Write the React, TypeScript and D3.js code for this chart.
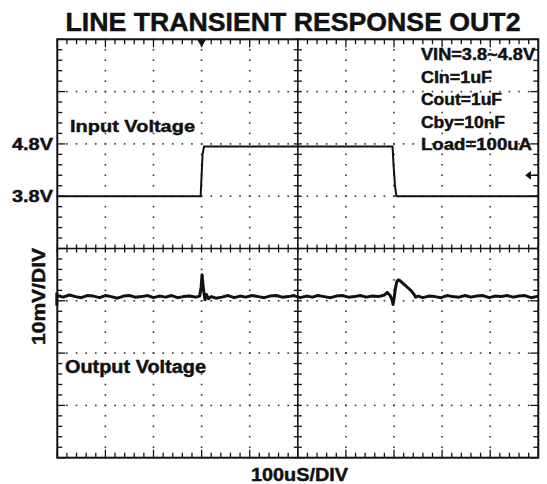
import React from 'react';
import * as d3 from 'd3';

// time in us (100us/div), input in volts, output in mV deviation (10mV/div)
const timeDivs = d3.range(0, 1001, 100);
const rowDivs = d3.range(0, 9, 1);

const inputTrace: [number, number][] = [
  [0, 3.8], [298, 3.8], [300, 4.2], [302, 4.6], [305, 4.75],
  [697, 4.75], [699, 4.4], [702, 4.0], [705, 3.8], [1000, 3.8],
];

const outputTrace: [number, number][] = [
  [0, 0.2], [12, -0.1], [25, 0.3], [38, 0], [50, -0.2], [62, 0.2], [75, 0.1], [88, -0.2],
  [100, 0.2], [112, 0], [125, -0.3], [138, 0.1], [150, 0.2], [162, -0.1], [175, 0], [188, 0.2],
  [200, -0.2], [212, 0.1], [225, -0.1], [238, 0.2], [250, -0.2], [262, 0], [275, 0.1], [288, -0.1],
  [296, 0.1], [299, 1.8], [301, 4.2], [303, 2.2], [305, 0.6], [307, -0.6], [310, 0.4], [314, -0.4],
  [320, 0], [330, -0.3], [342, -0.1], [355, 0.2], [368, -0.2], [380, 0.1], [392, -0.1], [405, 0.2],
  [418, 0], [430, -0.2], [442, 0.1], [455, 0.2], [468, -0.1], [480, 0], [492, 0.2], [505, -0.2],
  [518, 0.1], [530, -0.1], [542, 0.2], [555, 0], [568, -0.2], [580, 0.1], [592, 0.2], [605, -0.1],
  [618, 0], [630, 0.2], [642, -0.1], [655, 0.1], [668, 0], [680, 0.3], [686, 0.8], [692, 0.2],
  [696, -0.6], [698, -1.5], [700, -0.4], [703, 1.6], [706, 2.9], [709, 3.2], [713, 3.0], [718, 2.6],
  [724, 2.1], [730, 1.6], [736, 1.1], [741, 0.5], [745, -0.1], [750, 0.1], [760, -0.2], [772, 0.1],
  [785, 0], [798, -0.2], [810, 0.2], [822, 0], [835, -0.1], [848, 0.2], [860, -0.1], [872, 0.1],
  [885, 0.2], [898, -0.2], [910, 0.1], [922, 0], [935, 0.2], [948, -0.1], [960, 0.1], [972, 0.2],
  [985, -0.2], [1000, 0.1],
];

const inputLevels = [4.8, 3.8];
const notes = ['VIN=3.8~4.8V', 'CIn=1uF', 'Cout=1uF', 'Cby=10nF', 'Load=100uA'];
const noteWidths = [114, 71, 81, 84, 111];

const TRIGGER_T = 300;
const TRIGGER_LEVEL = 4.2;
const OUT_OFFSET_MV = -9.2; // channel 2 position below screen centre

const W = 547;
const H = 484;
const left = 57.3, right = 538.3, top = 39.3, bottom = 457.7;
const font = '"Liberation Sans", Arial, sans-serif';

export default function App() {
  const x = d3.scaleLinear().domain([0, 1000]).range([left, right]);
  const row = d3.scaleLinear().domain([0, 8]).range([top, bottom]);
  const yIn = d3.scaleLinear().domain([-1.2, 6.8]).range([bottom, top]);
  const yOut = d3.scaleLinear().domain([-40, 40]).range([bottom, top]);

  const minorT = d3.range(0, 1000.01, 20);
  const minorR = d3.range(0, 8.001, 0.2);

  const inLine = d3.line<[number, number]>().x((d) => x(d[0])).y((d) => yIn(d[1]));
  const outLine = d3.line<[number, number]>().x((d) => x(d[0])).y((d) => yOut(d[1] + OUT_OFFSET_MV));

  const cx = x(500);
  const cy = row(4);
  const ink = '#111';

  const dots: React.ReactNode[] = [];
  timeDivs.slice(1, -1).forEach((t) => {
    if (t === 500) return;
    minorR.forEach((r, i) =>
      dots.push(<rect key={`v${t}-${i}`} x={x(t) - 0.8} y={row(r) - 0.8} width={1.6} height={1.6} fill="#333" />));
  });
  rowDivs.slice(1, -1).forEach((r) => {
    if (r === 4) return;
    minorT.forEach((t, i) =>
      dots.push(<rect key={`h${r}-${i}`} x={x(t) - 0.8} y={row(r) - 0.8} width={1.6} height={1.6} fill="#333" />));
  });

  const ticks: React.ReactNode[] = [];
  minorT.forEach((t, i) => {
    const major = i % 5 === 0;
    const len = major ? 8 : 5;
    ticks.push(<line key={`tt${i}`} x1={x(t)} x2={x(t)} y1={top} y2={top + len} />);
    ticks.push(<line key={`tb${i}`} x1={x(t)} x2={x(t)} y1={bottom} y2={bottom - len} />);
    ticks.push(<line key={`tc${i}`} x1={x(t)} x2={x(t)} y1={cy - 4} y2={cy + 4} />);
  });
  minorR.forEach((r, i) => {
    const major = i % 5 === 0;
    const len = major ? 8 : 5;
    ticks.push(<line key={`tl${i}`} x1={left} x2={left + len} y1={row(r)} y2={row(r)} />);
    ticks.push(<line key={`tr${i}`} x1={right} x2={right - len} y1={row(r)} y2={row(r)} />);
    ticks.push(<line key={`tm${i}`} x1={cx - 4} x2={cx + 4} y1={row(r)} y2={row(r)} />);
  });

  const tx = x(TRIGGER_T);
  const ty = yIn(TRIGGER_LEVEL);
  const txt = { fill: ink, stroke: ink, strokeWidth: 0.45 };

  return (
    <svg width={W} height={H} style={{ position: 'absolute', left: 0, top: 0, background: '#fff' }}
      fontFamily={font} fontWeight="bold">
      <rect width={W} height={H} fill="#fff" />
      <text x={293} y={31} fontSize={26} textAnchor="middle" textLength={455} lengthAdjust="spacingAndGlyphs" {...txt}>
        LINE TRANSIENT RESPONSE OUT2
      </text>

      {dots}
      <g stroke={ink} strokeWidth={1.3}>
        {ticks}
        <line x1={left} x2={right} y1={cy} y2={cy} strokeWidth={1.6} />
        <line x1={cx} x2={cx} y1={top} y2={bottom} strokeWidth={1.6} />
      </g>
      <rect x={left} y={top} width={right - left} height={bottom - top} fill="none" stroke={ink} strokeWidth={2} />

      {/* trigger markers */}
      <path d={`M${tx - 4.5},${top} L${tx + 4.5},${top} L${tx},${top + 8} Z`} fill={ink} />
      <g stroke={ink} strokeWidth={1.4} fill={ink}>
        <line x1={right - 11} x2={right - 1} y1={ty} y2={ty} />
        <path d={`M${right - 12},${ty} L${right - 8},${ty - 3} L${right - 8},${ty + 3} Z`} />
      </g>
      <rect x={left - 2} y={yOut(OUT_OFFSET_MV) - 4} width={3} height={13} fill={ink} />

      {/* traces */}
      <path d={inLine(inputTrace) ?? ''} fill="none" stroke={ink} strokeWidth={2} />
      <path d={outLine(outputTrace) ?? ''} fill="none" stroke={ink} strokeWidth={3} strokeLinejoin="round" />

      {/* labels */}
      {inputLevels.map((v) => (
        <text key={v} x={53} y={yIn(v) + 6} fontSize={16} textAnchor="end" textLength={41}
          lengthAdjust="spacingAndGlyphs" {...txt}>{`${v.toFixed(1)}V`}</text>
      ))}
      <text x={70} y={132} fontSize={17} textLength={125} lengthAdjust="spacingAndGlyphs" {...txt}>Input Voltage</text>
      <text x={65} y={373} fontSize={17.5} textLength={141} lengthAdjust="spacingAndGlyphs" {...txt}>Output Voltage</text>
      {notes.map((n, i) => (
        <text key={n} x={421} y={60 + i * 22.6} fontSize={16} textLength={noteWidths[i]}
          lengthAdjust="spacingAndGlyphs" {...txt}>{n}</text>
      ))}
      <text transform={`translate(45,296.5) rotate(-90)`} fontSize={18} textAnchor="middle" textLength={97}
        lengthAdjust="spacingAndGlyphs" {...txt}>10mV/DIV</text>
      <text x={299.5} y={481} fontSize={18} textAnchor="middle" textLength={97}
        lengthAdjust="spacingAndGlyphs" {...txt}>100uS/DIV</text>
    </svg>
  );
}
